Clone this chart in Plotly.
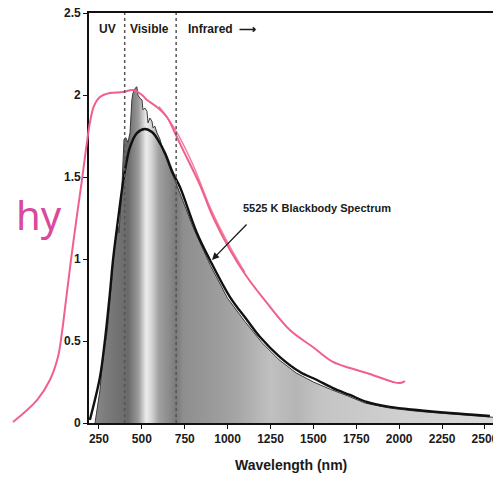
import plotly.graph_objects as go

# ---------------- data ----------------
x_ticks = [250, 500, 750, 1000, 1250, 1500, 1750, 2000, 2250, 2500]
y_ticks = [0, 0.5, 1, 1.5, 2, 2.5]
region_bounds = [400, 700]
region_labels = ["UV", "Visible", "Infrared  \u27f6"]
region_label_x = [297, 547, 967]

# measured solar spectrum (grey filled area)
solar_wl = [227, 256, 273, 297, 314, 332, 343, 355, 361, 367, 384, 396, 407, 419, 431, 442, 448,
            460, 471, 477, 489, 501, 506, 518, 530, 536, 547, 559, 565, 576, 588, 606, 623, 640,
            664, 693, 722, 800, 900, 1000, 1100, 1200, 1300, 1400, 1500, 1600, 1700, 1800, 1950,
            2100, 2300, 2547]
solar_val = [0, 0.20, 0.40, 0.55, 0.75, 0.95, 1.10, 1.16, 1.20, 1.16, 1.44, 1.73, 1.74, 1.71, 1.77,
             1.97, 2.01, 2.04, 2.05, 2.00, 1.98, 1.97, 1.91, 1.92, 1.90, 1.83, 1.86, 1.84, 1.80,
             1.81, 1.77, 1.73, 1.66, 1.62, 1.55, 1.48, 1.40, 1.19, 0.96, 0.76, 0.62, 0.49, 0.385,
             0.305, 0.25, 0.205, 0.165, 0.122, 0.09, 0.072, 0.055, 0.035]

# 5525 K blackbody curve (black line)
bb_wl = [197, 256, 285, 314, 332, 361, 384, 402, 431, 471, 518, 559, 594, 635, 681, 722, 821,
         897, 1014, 1113, 1189, 1305, 1422, 1521, 1614, 1713, 1812, 1946, 2104, 2296, 2529]
bb_val = [0.018, 0.28, 0.506, 0.793, 0.994, 1.238, 1.421, 1.543, 1.683, 1.768, 1.793, 1.774,
          1.726, 1.646, 1.524, 1.439, 1.159, 0.994, 0.768, 0.628, 0.524, 0.402, 0.311, 0.262,
          0.213, 0.171, 0.128, 0.098, 0.079, 0.061, 0.043]

# hand-drawn pink curve (ink on the scan)
pink_wl = [-251, -111, -36, 11, 34, 58, 87, 122, 151, 174, 198, 221, 256, 314, 390, 448, 501, 530,
           588, 646, 693, 740, 839, 915, 1014, 1113, 1229, 1363, 1497, 1614, 1713, 1812, 1964,
           2005, 2034]
pink_val = [0.006, 0.14, 0.262, 0.402, 0.549, 0.75, 0.994, 1.268, 1.482, 1.665, 1.835, 1.933,
            1.988, 2.012, 2.018, 2.03, 2.0, 1.97, 1.927, 1.866, 1.768, 1.665, 1.451, 1.256,
            1.055, 0.89, 0.732, 0.567, 0.463, 0.372, 0.335, 0.305, 0.25, 0.244, 0.256]
pink2_wl = [600, 700, 800, 900, 1000, 1100]
pink2_val = [1.93, 1.78, 1.57, 1.31, 1.10, 0.92]

# ---------------- layout geometry ----------------
W, H = 493, 479
x_range = [192, 2547]
y_range = [0, 2.5]
x_dom = [89 / W, 1.0]
y_dom = [1 - 423 / H, 1 - 13 / H]


def extend(r, d):
    span = (r[1] - r[0]) / (d[1] - d[0])
    return [r[0] - d[0] * span, r[1] + (1 - d[1]) * span]


x2_range = extend(x_range, x_dom)
y2_range = extend(y_range, y_dom)

FONT = "Liberation Sans, Arial, sans-serif"
INK = "#1a1a1a"


def wl_pos(wl):
    return (wl - x_range[0]) / (x_range[1] - x_range[0])


grad = [(200, "#8c8c8c"), (330, "#767676"), (420, "#6a6a6a"), (480, "#9a9a9a"), (525, "#ececec"),
        (555, "#d6d6d6"), (600, "#a0a0a0"), (660, "#8a8a8a"), (700, "#7a7a7a"), (740, "#8e8e8e"),
        (900, "#999999"), (1050, "#a5a5a5"), (1250, "#c0c0c0"), (1400, "#b5b5b5"),
        (1550, "#c4c4c4"), (1900, "#cdcdcd"), (2547, "#dadada")]
colorscale = [[max(0.0, min(1.0, wl_pos(w))), c] for w, c in grad]
colorscale[0][0] = 0.0
colorscale[-1][0] = 1.0

fig = go.Figure()

fig.add_trace(go.Scatter(
    x=solar_wl, y=solar_val, mode="lines", fill="tozeroy",
    fillgradient=dict(type="horizontal", colorscale=colorscale,
                      start=x_range[0], stop=x_range[1]),
    line=dict(color="#3a3a3a", width=1), hoverinfo="skip", showlegend=False))

fig.add_trace(go.Scatter(
    x=bb_wl, y=bb_val, mode="lines", line=dict(color="#111111", width=2.4, shape="spline"),
    showlegend=False))

fig.add_trace(go.Scatter(
    x=pink_wl, y=pink_val, xaxis="x2", yaxis="y2", mode="lines",
    line=dict(color="#f0608a", width=2, shape="spline"), showlegend=False))
fig.add_trace(go.Scatter(
    x=pink2_wl, y=pink2_val, xaxis="x2", yaxis="y2", mode="lines",
    line=dict(color="#f0608a", width=1.5, shape="spline"), opacity=0.8, showlegend=False))

for b in region_bounds:
    fig.add_shape(type="line", x0=b, x1=b, y0=0, y1=2.5, xref="x", yref="y",
                  line=dict(color="#555555", width=1.5, dash="dot"))

anns = []
for lab, xx in zip(region_labels, region_label_x):
    anns.append(dict(x=xx, y=2.4, xref="x", yref="y", text=lab, showarrow=False,
                     xanchor="center", yanchor="middle",
                     font=dict(family=FONT, size=12, color=INK, weight="bold")))

anns.append(dict(x=1521, y=1.31, xref="x", yref="y", text="5525 K Blackbody Spectrum",
                 showarrow=False, xanchor="center", yanchor="middle",
                 font=dict(family=FONT, size=11, color=INK, weight="bold")))
anns.append(dict(x=909, y=0.994, xref="x", yref="y", text="", showarrow=True,
                 ax=36, ay=-37, arrowhead=2, arrowsize=1.1, arrowwidth=1.3,
                 arrowcolor=INK))
anns.append(dict(x=(x_dom[0] + x_dom[1]) / 2, y=1 - 465 / H, xref="paper", yref="paper",
                 text="Wavelength (nm)", showarrow=False, xanchor="center", yanchor="middle",
                 font=dict(family=FONT, size=14, color=INK, weight="bold")))
anns.append(dict(x=39 / W, y=1 - 214 / H, xref="paper", yref="paper", text="hy",
                 showarrow=False, xanchor="center", yanchor="middle",
                 font=dict(family="Noto Sans", size=40, color="#d94a9c")))

fig.update_layout(
    width=W, height=H, margin=dict(l=0, r=0, t=0, b=0, autoexpand=False),
    paper_bgcolor="white", plot_bgcolor="rgba(0,0,0,0)",
    showlegend=False, annotations=anns,
    xaxis=dict(domain=x_dom, range=x_range, tickmode="array", tickvals=x_ticks,
               ticktext=[str(t) for t in x_ticks], ticks="outside", ticklen=4,
               tickcolor="#111", showline=True, linecolor="#111", linewidth=1.6,
               mirror=True, showgrid=False, zeroline=False, automargin=False,
               ticklabeloverflow="allow",
               tickfont=dict(family=FONT, size=12, color=INK, weight="bold")),
    yaxis=dict(domain=y_dom, range=y_range, tickmode="array", tickvals=y_ticks,
               ticktext=["0", "0.5", "1", "1.5", "2", "2.5"], ticks="outside", ticklen=4,
               tickcolor="#111", showline=True, linecolor="#111", linewidth=1.6,
               showgrid=False, zeroline=False, automargin=False,
               tickfont=dict(family=FONT, size=12, color=INK, weight="bold")),
    xaxis2=dict(domain=[0, 1], range=x2_range, anchor="y2", visible=False, showgrid=False,
                automargin=False),
    yaxis2=dict(domain=[0, 1], range=y2_range, anchor="x2", visible=False, showgrid=False,
                automargin=False),
)

fig.write_html("out.html", config={"displayModeBar": False},
               post_script="document.body.style.margin='0';document.body.style.overflow='hidden';")
